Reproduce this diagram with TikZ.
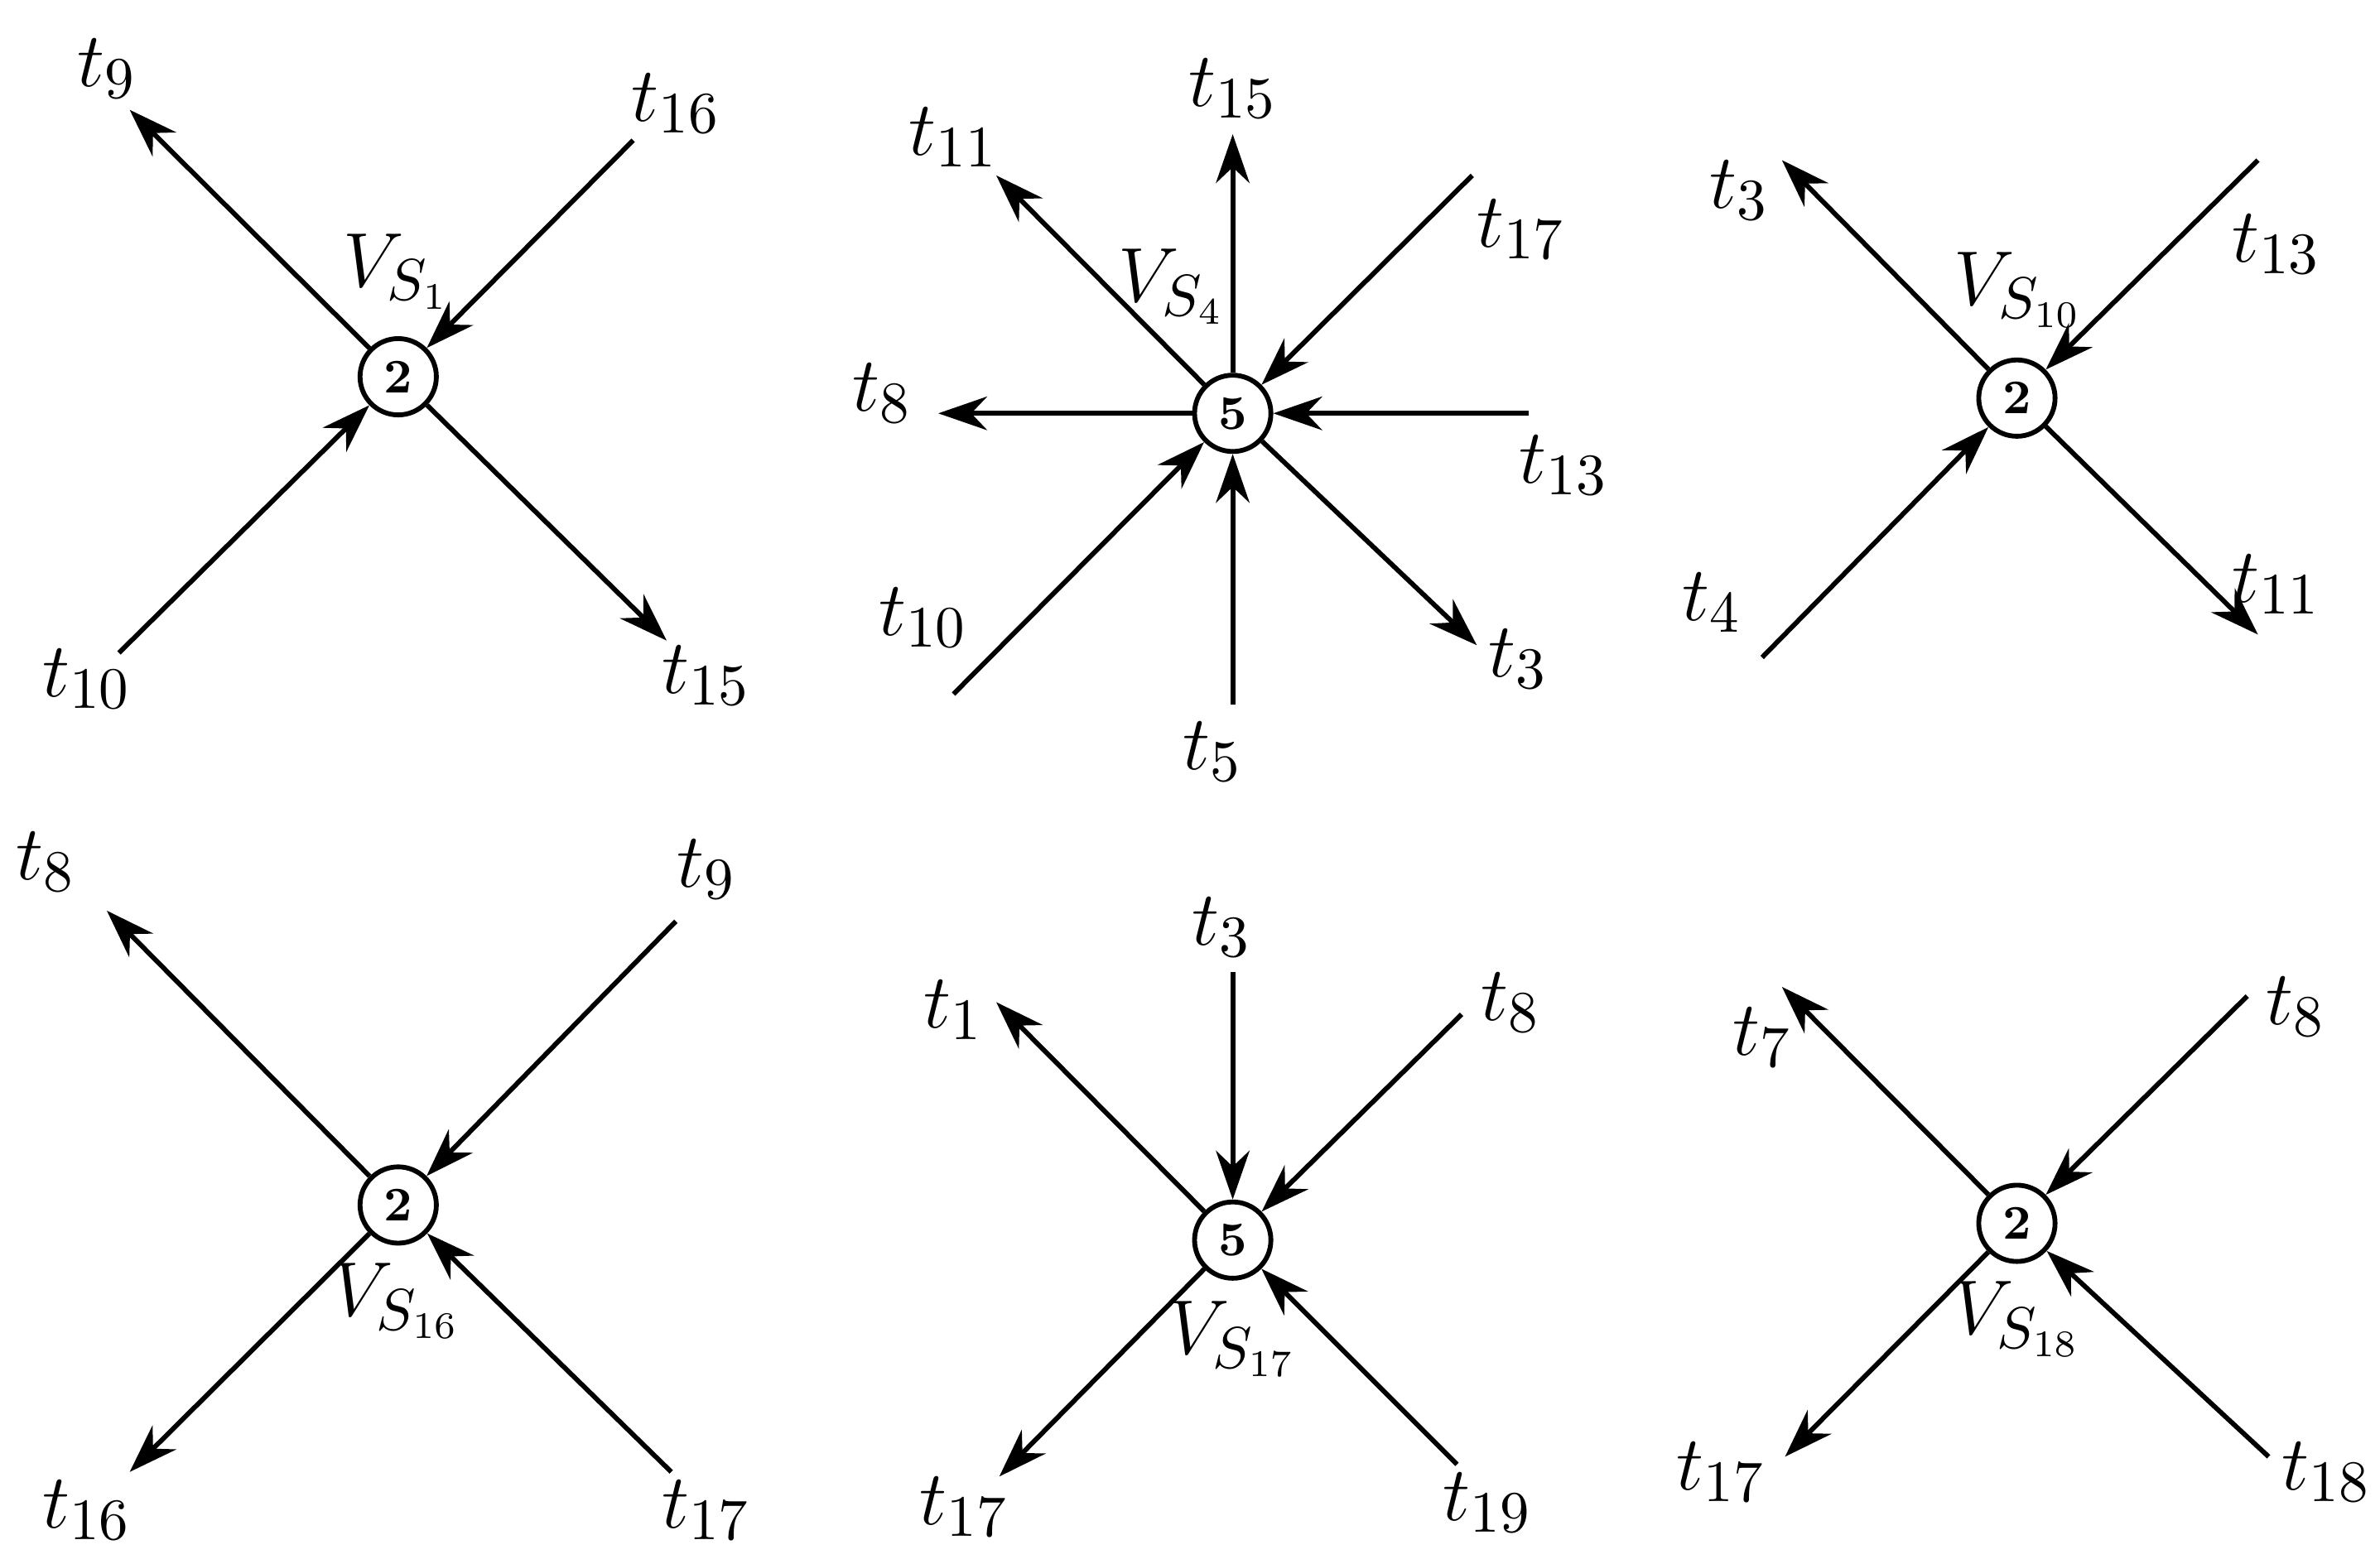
\documentclass[tikz,border=0pt]{standalone}
\usetikzlibrary{arrows.meta}
\begin{document}
\begin{tikzpicture}[x=0.01cm,y=-0.01cm,
  vtx/.style={circle,draw,line width=0.9pt,minimum size=0.5cm,inner sep=0pt,font=\small\bfseries},
  lbl/.style={font=\fontsize{15}{18}\selectfont},
  ed/.style={line width=0.9pt,-{Stealth[length=3.2mm,width=2.2mm]}},
  ln/.style={line width=0.9pt}]
\useasboundingbox (0,0) rectangle (1560,1025);
\newcommand{\outE}[5]{\coordinate (#1e#2) at (#3); \draw[ed] (#1) -- (#1e#2);}
\newcommand{\inE}[5]{\coordinate (#1e#2) at (#3); \draw[ed] (#1e#2) -- (#1);}
% D1
\node[vtx] (a) at (261,247) {2};
\node[lbl] at (260,178) {$V_{S_1}$};
\coordinate (a1) at (85,72); \draw[ed] (a) -- (a1); \node[lbl] (la1) at (70,45) {$t_9$};
\coordinate (a2) at (415,92); \draw[ed] (a2) -- (a); \node[lbl] (la2) at (443,68) {$t_{16}$};
\coordinate (a3) at (78,428); \draw[ed] (a3) -- (a); \node[lbl] (la3) at (57,445) {$t_{10}$};
\coordinate (a4) at (437,420); \draw[ed] (a) -- (a4); \node[lbl] (la4) at (463,443) {$t_{15}$};
% D2
\node[vtx] (b) at (808,271) {5};
\node[lbl] at (768,188) {$V_{S_4}$};
\coordinate (b1) at (808,88); \draw[ed] (b) -- (b1); \node[lbl] at (808,58) {$t_{15}$};
\coordinate (b2) at (653,115); \draw[ed] (b) -- (b2); \node[lbl] at (625,90) {$t_{11}$};
\coordinate (b3) at (965,115); \draw[ed] (b3) -- (b); \node[lbl] at (997,150) {$t_{17}$};
\coordinate (b4) at (615,271); \draw[ed] (b) -- (b4); \node[lbl] at (578,258) {$t_8$};
\coordinate (b5) at (1002,271); \draw[ed] (b5) -- (b); \node[lbl] at (1025,305) {$t_{13}$};
\coordinate (b6) at (625,455); \draw[ed] (b6) -- (b); \node[lbl] at (605,405) {$t_{10}$};
\coordinate (b7) at (808,462); \draw[ed] (b7) -- (b); \node[lbl] at (795,493) {$t_5$};
\coordinate (b8) at (968,423); \draw[ed] (b) -- (b8); \node[lbl] at (995,432) {$t_3$};
% D3
\node[vtx] (c) at (1322,261) {2};
\node[lbl] at (1323,190) {$V_{S_{10}}$};
\coordinate (c1) at (1168,105); \draw[ed] (c) -- (c1); \node[lbl] at (1140,125) {$t_3$};
\coordinate (c2) at (1480,105); \draw[ed] (c2) -- (c); \node[lbl] at (1492,160) {$t_{13}$};
\coordinate (c3) at (1155,431); \draw[ed] (c3) -- (c); \node[lbl] at (1122,395) {$t_4$};
\coordinate (c4) at (1480,416); \draw[ed] (c) -- (c4); \node[lbl] at (1492,383) {$t_{11}$};
% D4
\node[vtx] (d) at (261,790) {2};
\node[lbl] at (260,853) {$V_{S_{16}}$};
\coordinate (d1) at (70,597); \draw[ed] (d) -- (d1); \node[lbl] at (30,565) {$t_8$};
\coordinate (d2) at (443,604); \draw[ed] (d2) -- (d); \node[lbl] at (463,570) {$t_9$};
\coordinate (d3) at (85,965); \draw[ed] (d) -- (d3); \node[lbl] at (57,990) {$t_{16}$};
\coordinate (d4) at (440,965); \draw[ed] (d4) -- (d); \node[lbl] at (463,990) {$t_{17}$};
% D5
\node[vtx] (e) at (808,813) {5};
\node[lbl] at (808,878) {$V_{S_{17}}$};
\coordinate (e1) at (808,637); \draw[ed] (e1) -- (e); \node[lbl] at (801,608) {$t_3$};
\coordinate (e2) at (653,657); \draw[ed] (e) -- (e2); \node[lbl] at (625,662) {$t_1$};
\coordinate (e3) at (958,665); \draw[ed] (e3) -- (e); \node[lbl] at (990,657) {$t_8$};
\coordinate (e4) at (655,968); \draw[ed] (e) -- (e4); \node[lbl] at (632,988) {$t_{17}$};
\coordinate (e5) at (955,960); \draw[ed] (e5) -- (e); \node[lbl] at (975,985) {$t_{19}$};
% D6
\node[vtx] (f) at (1322,802) {2};
\node[lbl] at (1322,865) {$V_{S_{18}}$};
\coordinate (f1) at (1168,647); \draw[ed] (f) -- (f1); \node[lbl] at (1155,680) {$t_7$};
\coordinate (f2) at (1473,653); \draw[ed] (f2) -- (f); \node[lbl] at (1505,660) {$t_8$};
\coordinate (f3) at (1170,955); \draw[ed] (f) -- (f3); \node[lbl] at (1128,965) {$t_{17}$};
\coordinate (f4) at (1487,955); \draw[ed] (f4) -- (f); \node[lbl] at (1525,965) {$t_{18}$};
\end{tikzpicture}
\end{document}
